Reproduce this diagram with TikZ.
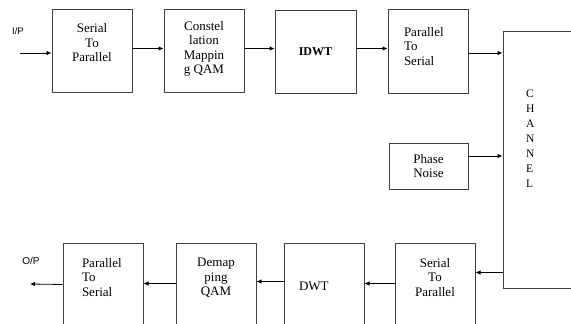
\documentclass[tikz,border=0pt]{standalone}
\usepackage{fontspec}
\setmainfont{Liberation Serif}
\newfontfamily\tagfont{Liberation Sans}
\usetikzlibrary{arrows.meta}
\tikzset{
    block/.style={draw=black!75,line width=1pt,rectangle,inner sep=0pt,align=center,
        font=\rmfamily\fontsize{13}{14.5}\selectfont},
    leftblock/.style={block,align=left},
    flow/.style={-{Latex[length=5pt,width=4.5pt]},line width=0.8pt},
    tag/.style={font=\tagfont\fontsize{9.5}{11}\selectfont}
}

\begin{document}
\begin{tikzpicture}[x=1pt,y=-1pt]
\clip (0,0) rectangle (571,324);
% transmitter
\node[block,minimum width=80,minimum height=83,text depth=16] (sp1) at (92,50.5) {Serial\\To\\Parallel};
\node[block,minimum width=80,minimum height=83,text depth=6] (map) at (204,50.5) {Constel\\lation\\Mappin\\g QAM};
\node[block,minimum width=81,minimum height=83,font=\rmfamily\bfseries\fontsize{12}{14.5}\selectfont] (idwt) at (315.5,51.5) {IDWT};
\node[leftblock,text width=48,inner xsep=16,minimum height=84,text depth=38.5] (ps1) at (428,51) {Parallel\\To\\Serial};
\node[leftblock,text width=80,inner xsep=23,minimum height=257,text depth=131.5,
      font=\rmfamily\fontsize{11.5}{15}\selectfont] (ch) at (566,159.5) {C\\H\\A\\N\\N\\E\\L};
\node[block,minimum width=79,minimum height=46] (pn) at (428.5,166) {Phase\\Noise};
% receiver
\node[block,minimum width=80,minimum height=87,text depth=19] (rsp) at (435,286.5) {Serial\\To\\Parallel};
\node[leftblock,text width=50,inner xsep=15,minimum height=87] (dwt) at (324,286.5) {DWT};
\node[block,minimum width=80,minimum height=87,text depth=19] (dmap) at (216,286.5) {Demap\\ping\\QAM};
\node[leftblock,text width=42,inner xsep=19,minimum height=87,text depth=47.5] (ps2) at (103,286.5) {Parallel\\To\\Serial};
% in / out
\node[tag] (ip) at (18,31) {I/P};
\node[tag,font=\tagfont\fontsize{10}{11}\selectfont] (op) at (31,261) {O/P};
\coordinate (in) at (20,53);
\coordinate (out) at (30,284);
% connectors
\draw[flow] (in) -- (in -| sp1.west);
\draw[flow] ([yshift=2pt]sp1.east) -- ([yshift=2pt]sp1.east -| map.west);
\draw[flow] ([yshift=2pt]map.east) -- ([yshift=2pt]map.east -| idwt.west);
\draw[flow] ([yshift=3pt]idwt.east) -- ([yshift=3pt]idwt.east -| ps1.west);
\draw[flow] ([yshift=-2pt]ps1.east) -- ([yshift=-2pt]ps1.east -| ch.west);
\draw[flow] ([yshift=10pt]pn.east) -- ([yshift=10pt]pn.east -| ch.west);
\draw[flow] ([yshift=14pt]rsp.east -| ch.west) -- ([yshift=14pt]rsp.east);
\draw[flow] ([yshift=3pt]rsp.west) -- ([yshift=3pt]rsp.west -| dwt.east);
\draw[flow] ([yshift=5pt]dwt.west) -- ([yshift=5pt]dwt.west -| dmap.east);
\draw[flow] ([yshift=3pt]dmap.west) -- ([yshift=3pt]dmap.west -| ps2.east);
\draw[flow] ([yshift=2pt]ps2.west) -- (out);
\end{tikzpicture}
\end{document}
